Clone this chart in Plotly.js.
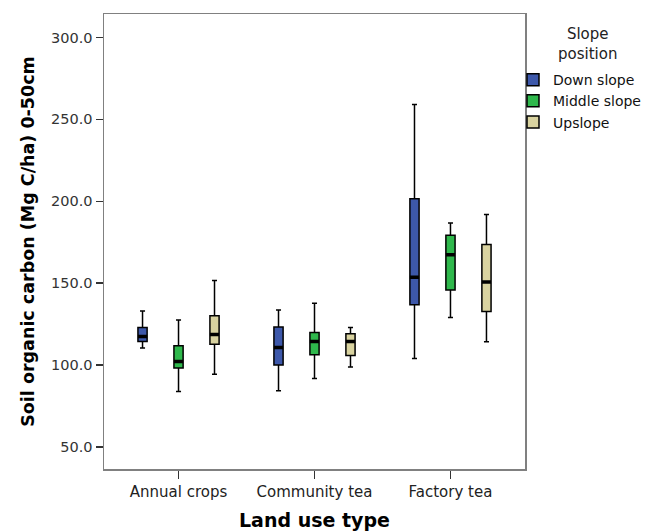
<!DOCTYPE html>
<html>
<head>
<meta charset="utf-8">
<script src="https://cdn.plot.ly/plotly-3.0.1.min.js"></script>
<style>html,body{margin:0;padding:0;background:#fff;}#chart{width:654px;height:531px;}</style>
</head>
<body>
<div id="chart"></div>
<script>
var categories = ["Annual crops", "Community tea", "Factory tea"];
var seriesNames = ["Down slope", "Middle slope", "Upslope"];
var seriesColors = ["#3d58aa", "#2fb84c", "#d9d3a0"];
var legendTitle = "Slope<br>position";

// per series: values for [Annual crops, Community tea, Factory tea]
var downMin = [110.4, 84.3, 104.0];
var downQ1 = [114.4, 100.0, 136.8];
var downMed = [117.5, 110.7, 153.7];
var downQ3 = [122.9, 123.2, 201.6];
var downMax = [133.1, 133.7, 259.0];

var midMin = [83.9, 91.8, 129.0];
var midQ1 = [98.2, 106.3, 145.8];
var midMed = [102.2, 114.4, 167.3];
var midQ3 = [111.8, 119.9, 179.3];
var midMax = [127.5, 137.8, 186.8];

var upMin = [94.5, 98.8, 114.2];
var upQ1 = [112.8, 105.9, 132.7];
var upMed = [118.7, 114.4, 150.8];
var upQ3 = [130.1, 119.1, 173.6];
var upMax = [151.6, 122.9, 191.9];

var yTicks = [50, 100, 150, 200, 250, 300];

var stats = [
  [downMin, downQ1, downMed, downQ3, downMax],
  [midMin, midQ1, midMed, midQ3, midMax],
  [upMin, upQ1, upMed, upQ3, upMax]
];

var FONT = "DejaVu Sans, Verdana, sans-serif";

var traces = [];
stats.forEach(function (s, i) {
  traces.push({
    type: "box",
    name: seriesNames[i],
    x: categories,
    lowerfence: s[0], q1: s[1], median: s[2], q3: s[3], upperfence: s[4],
    offsetgroup: "g" + i,
    fillcolor: seriesColors[i],
    line: {color: "#000000", width: 1.5},
    whiskerwidth: 0.55,
    marker: {color: seriesColors[i]},
    hoverinfo: "skip"
  });
});
// thick median overlays
stats.forEach(function (s, i) {
  traces.push({
    type: "box",
    name: seriesNames[i] + " median",
    x: categories,
    lowerfence: s[2], q1: s[2], median: s[2], q3: s[2], upperfence: s[2],
    offsetgroup: "g" + i,
    fillcolor: "rgba(0,0,0,0)",
    line: {color: "#000000", width: 3.5},
    whiskerwidth: 0,
    showlegend: false,
    hoverinfo: "skip"
  });
});

var layout = {
  width: 654, height: 531,
  paper_bgcolor: "#ffffff", plot_bgcolor: "#ffffff",
  margin: {l: 104, r: 129, t: 14, b: 62, autoexpand: false},
  font: {family: FONT, color: "#222"},
  boxmode: "group",
  boxgap: 0.206,
  boxgroupgap: 0.745,
  xaxis: {
    type: "category",
    range: [-0.548, 2.548],
    showgrid: false, zeroline: false,
    showline: true, mirror: true, linecolor: "#808080", linewidth: 1.5,
    ticks: "outside", ticklen: 8, tickcolor: "#333", tickwidth: 1.5,
    tickfont: {family: FONT, size: 15, color: "#222"},
    title: {text: "<b>Land use type</b>", font: {family: FONT, size: 19, color: "#000"}, standoff: 14}
  },
  yaxis: {
    range: [36.6, 314.3],
    tickvals: yTicks,
    ticktext: yTicks.map(function (v) { return v.toFixed(1); }),
    showgrid: false, zeroline: false,
    showline: true, mirror: true, linecolor: "#808080", linewidth: 1.5,
    ticks: "outside", ticklen: 7, tickcolor: "#333", tickwidth: 1.5,
    tickfont: {family: FONT, size: 14.5, color: "#333"},
    title: {text: "<b>Soil organic carbon (Mg C/ha) 0-50cm</b>", font: {family: FONT, size: 17.5, color: "#000"}, standoff: 12}
  },
  legend: {
    x: 0.9715, xanchor: "left", y: 0.890, yanchor: "top",
    font: {family: FONT, size: 14, color: "#111"},
    itemwidth: 30,
    tracegroupgap: 0,
    bgcolor: "rgba(0,0,0,0)"
  },
  annotations: [{
    text: legendTitle, xref: "paper", yref: "paper",
    x: 1.1496, y: 0.934, xanchor: "center", yanchor: "middle",
    align: "center", showarrow: false,
    font: {family: FONT, size: 15, color: "#222"}
  }],
  showlegend: true
};

Plotly.newPlot("chart", traces, layout, {displayModeBar: false, staticPlot: true});
</script>
</body>
</html>
